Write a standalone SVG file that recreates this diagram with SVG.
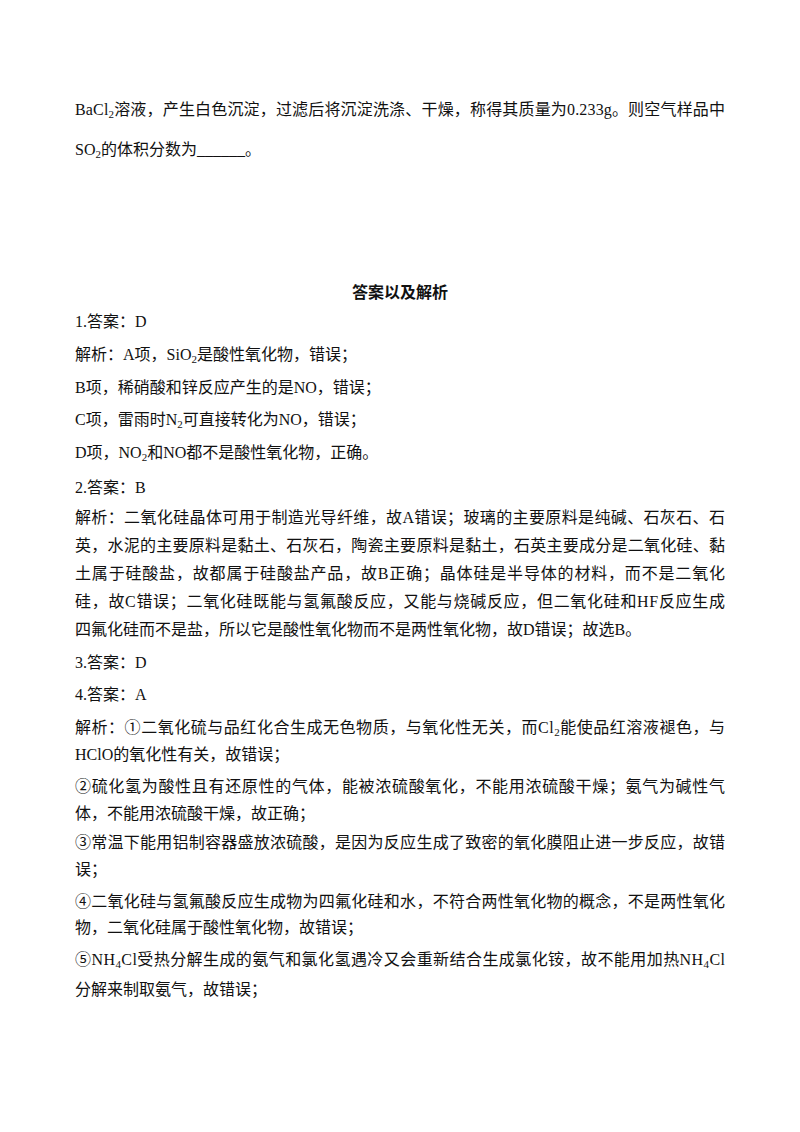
<svg xmlns="http://www.w3.org/2000/svg" width="800" height="1132" viewBox="0 0 800 1132">
<style>
text{font-family:"Liberation Serif","Noto Sans CJK SC",serif;font-size:16px;fill:#111}
.b{font-weight:bold;font-family:"Noto Sans CJK SC",sans-serif}
.s{font-size:11px}
</style>
<rect width="800" height="1132" fill="#fff"/>
<g id="text">
<text x="75" y="115" textLength="650">BaCl<tspan class="s" dy="3">2</tspan><tspan dy="-3">溶液，产生白色沉淀，过滤后将沉淀洗涤、干燥，称得其质量为0.233g。则空气样品中</tspan></text>
<text x="75" y="155">SO<tspan class="s" dy="3">2</tspan><tspan dy="-3">的体积分数为______。</tspan></text>
<text x="400" y="298" class="b" text-anchor="middle">答案以及解析</text>
<text x="75" y="327">1.答案：D</text>
<text x="75" y="360">解析：A项，SiO<tspan class="s" dy="3">2</tspan><tspan dy="-3">是酸性氧化物，错误；</tspan></text>
<text x="75" y="393">B项，稀硝酸和锌反应产生的是NO，错误；</text>
<text x="75" y="425">C项，雷雨时N<tspan class="s" dy="3">2</tspan><tspan dy="-3">可直接转化为NO，错误；</tspan></text>
<text x="75" y="458">D项，NO<tspan class="s" dy="3">2</tspan><tspan dy="-3">和NO都不是酸性氧化物，正确。</tspan></text>
<text x="75" y="493">2.答案：B</text>
<text x="75" y="523" textLength="650">解析：二氧化硅晶体可用于制造光导纤维，故A错误；玻璃的主要原料是纯碱、石灰石、石</text>
<text x="75" y="551" textLength="650">英，水泥的主要原料是黏土、石灰石，陶瓷主要原料是黏土，石英主要成分是二氧化硅、黏</text>
<text x="75" y="579" textLength="650">土属于硅酸盐，故都属于硅酸盐产品，故B正确；晶体硅是半导体的材料，而不是二氧化</text>
<text x="75" y="607" textLength="650">硅，故C错误；二氧化硅既能与氢氟酸反应，又能与烧碱反应，但二氧化硅和HF反应生成</text>
<text x="75" y="635">四氟化硅而不是盐，所以它是酸性氧化物而不是两性氧化物，故D错误；故选B。</text>
<text x="75" y="668">3.答案：D</text>
<text x="75" y="700">4.答案：A</text>
<text x="75" y="733" textLength="650">解析：①二氧化硫与品红化合生成无色物质，与氧化性无关，而Cl<tspan class="s" dy="3">2</tspan><tspan dy="-3">能使品红溶液褪色，与</tspan></text>
<text x="75" y="760">HClO的氧化性有关，故错误；</text>
<text x="75" y="792" textLength="650">②硫化氢为酸性且有还原性的气体，能被浓硫酸氧化，不能用浓硫酸干燥；氨气为碱性气</text>
<text x="75" y="819">体，不能用浓硫酸干燥，故正确；</text>
<text x="75" y="848" textLength="650">③常温下能用铝制容器盛放浓硫酸，是因为反应生成了致密的氧化膜阻止进一步反应，故错</text>
<text x="75" y="875">误；</text>
<text x="75" y="907" textLength="650">④二氧化硅与氢氟酸反应生成物为四氟化硅和水，不符合两性氧化物的概念，不是两性氧化</text>
<text x="75" y="933">物，二氧化硅属于酸性氧化物，故错误；</text>
<text x="75" y="965" textLength="650">⑤NH<tspan class="s" dy="3">4</tspan><tspan dy="-3">Cl受热分解生成的氨气和氯化氢遇冷又会重新结合生成氯化铵，故不能用加热NH</tspan><tspan class="s" dy="3">4</tspan><tspan dy="-3">Cl</tspan></text>
<text x="75" y="995">分解来制取氨气，故错误；</text>
</g>
</svg>
